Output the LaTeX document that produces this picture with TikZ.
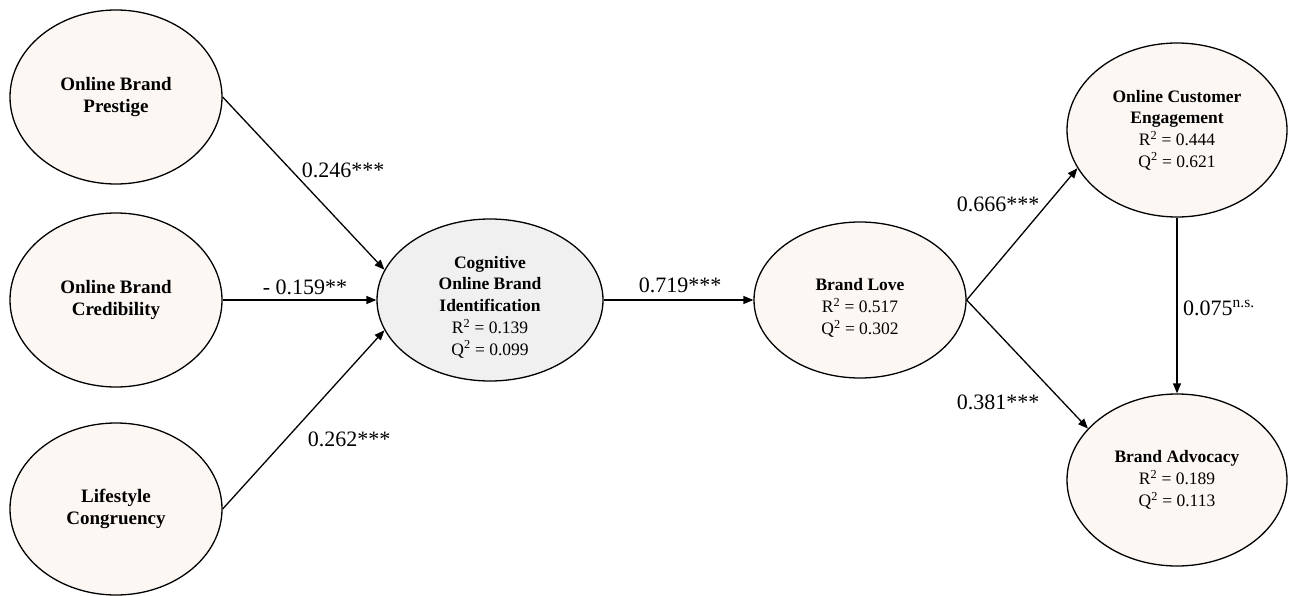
\documentclass[tikz,border=0pt]{standalone}
\usepackage{fontspec}
\setmainfont{Liberation Serif}
\usetikzlibrary{shapes.geometric,arrows.meta}
\definecolor{fillA}{HTML}{FCF7F3}
\definecolor{fillG}{HTML}{F0F0F0}
\tikzset{
  construct/.style={ellipse, draw, line width=1.3pt, fill=fillA, inner sep=0pt, align=center},
  leftfont/.style={font=\fontsize{19}{22.3}\selectfont\bfseries},
  rightfont/.style={font=\fontsize{17.5}{21.7}\selectfont},
  txt/.style={align=center, inner sep=0pt, rightfont},
  conn/.style={-{Triangle[length=10pt,width=8pt]}, line width=1.3pt},
  lab/.style={font=\fontsize{22}{26}\selectfont, inner sep=0pt}
}
\begin{document}
\begin{tikzpicture}[x=1pt,y=-1pt]
\useasboundingbox (0,0) rectangle (1295,596);
% exogenous constructs
\node[construct, leftfont, minimum width=212pt, minimum height=174pt] (P) at (116,97) {Online Brand\\Prestige};
\node[construct, leftfont, minimum width=212pt, minimum height=174pt] (C) at (116,300) {Online Brand\\Credibility};
\node[construct, leftfont, minimum width=212pt, minimum height=172pt] (L) at (116,509) {Lifestyle\\Congruency};
% cognitive online brand identification
\node[construct, fill=fillG, minimum width=226pt, minimum height=162pt] (COG) at (490,300) {};
\node[txt] (COGt) at ([yshift=-7pt]COG.center) {\textbf{Cognitive}\\\textbf{Online Brand}\\\textbf{Identification}\\R\textsuperscript{2} = 0.139\\Q\textsuperscript{2} = 0.099};
% brand love
\node[construct, minimum width=212pt, minimum height=156pt] (BL) at (860,300) {};
\node[txt] (BLt) at ([yshift=-8pt]BL.center) {\textbf{Brand Love}\\R\textsuperscript{2} = 0.517\\Q\textsuperscript{2} = 0.302};
% online customer engagement
\node[construct, rightfont, minimum width=220pt, minimum height=174pt] (OCE) at (1177,130) {\textbf{Online Customer}\\\textbf{Engagement}\\R\textsuperscript{2} = 0.444\\Q\textsuperscript{2} = 0.621};
% brand advocacy
\node[construct, rightfont, minimum width=220pt, minimum height=172pt] (BA) at (1177,480) {\textbf{Brand Advocacy}\\R\textsuperscript{2} = 0.189\\Q\textsuperscript{2} = 0.113};
% connectors
\draw[conn] (P.east) -- (COG.164);
\draw[conn] (C.east) -- (COG.west);
\draw[conn] (L.east) -- (COG.196);
\draw[conn] (COG.east) -- (BL.west);
\draw[conn] (BL.east) -- (OCE.201);
\draw[conn] (BL.east) -- (BA.150);
\draw[conn] (OCE.south) -- (BA.north);
% path coefficients
\node[lab] (l1) at (343,170) {0.246***};
\node[lab] (l2) at (305,287) {- 0.159**};
\node[lab] (l3) at (349,439) {0.262***};
\node[lab] (l4) at (680,285) {0.719***};
\node[lab] (l5) at (998,204) {0.666***};
\node[lab] (l6) at (998,402) {0.381***};
\node[lab, anchor=west] (l7) at (1183,308) {0.075\textsuperscript{n.s.}};
\end{tikzpicture}
\end{document}
